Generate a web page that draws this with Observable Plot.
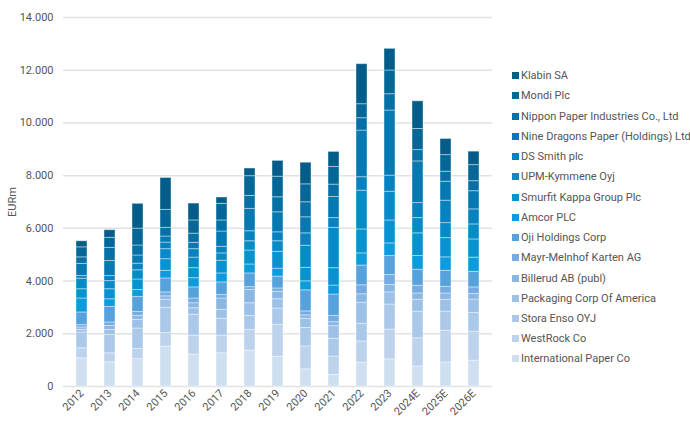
<!DOCTYPE html>
<html><head><meta charset="utf-8">
<script src="https://cdn.jsdelivr.net/npm/d3@7"></script>
<script src="https://cdn.jsdelivr.net/npm/@observablehq/plot@0.6"></script>
<style>
body{margin:0;background:#fff;font-family:Roboto,sans-serif;}
#wrap{position:relative;width:690px;height:421px;}
#legend{position:absolute;left:512px;top:65.6px;font-size:11px;color:#555;font-family:Roboto,sans-serif;}
.item{height:20.24px;display:flex;align-items:center;white-space:nowrap;}
.sw{width:7px;height:7px;margin-right:2px;flex:none;}
</style></head><body><div id="wrap"></div>
<script>
const years = ["2012","2013","2014","2015","2016","2017","2018","2019","2020","2021","2022","2023","2024E","2025E","2026E"];
// stacking order, bottom to top
const companies = ["International Paper Co","WestRock Co","Stora Enso OYJ","Packaging Corp Of America","Billerud AB (publ)","Mayr-Melnhof Karten AG","Oji Holdings Corp","Amcor PLC","Smurfit Kappa Group Plc","UPM-Kymmene Oyj","DS Smith plc","Nine Dragons Paper (Holdings) Ltd","Nippon Paper Industries Co., Ltd","Mondi Plc","Klabin SA"];
const colors = ["#cddff0","#bdd3ec","#abc8e8","#9cc0e6","#8ab6e2","#75abe0","#55a2dc","#0e9ade","#0991d1","#068ac8","#0582bf","#0579b2","#0471a6","#036897","#045d88"];

const internationalPaper = [1070, 920,1040,1510,1210,1260,1360,1130, 650, 440, 900,1030, 760, 910, 980];
const westRock           = [ 380, 340, 380, 520, 720, 670, 790,1210, 870, 700, 810,1130,1070,1210,1100];
const storaEnso          = [ 600, 700, 780, 960, 790, 640, 530, 620, 700, 670, 670, 950,1010, 720, 710];
const packagingCorp      = [ 100, 190, 330, 300, 250, 340, 480, 350, 350, 480, 800, 460, 450, 450, 510];
const billerud           = [  90, 150, 150, 130, 190, 430, 500, 280, 130, 150, 320, 280, 240, 240, 210];
const mayrMelnhof        = [  90, 130, 150, 150, 180, 130, 110, 130, 150, 240, 340, 380, 290, 250, 250];
const oji                = [ 480, 590, 570, 530, 420, 480, 520, 450, 800, 810, 750, 720, 610, 610, 590];
const amcor              = [ 530, 290, 260, 290, 350, 340, 340, 300, 340, 340, 460, 480, 520, 510, 540];
const smurfitKappa       = [ 350, 380, 400, 440, 380, 480, 530, 640, 510, 660, 910, 870, 860, 730, 690];
const upm                = [ 400, 310, 350, 380, 400, 280, 350, 400, 840,1530,1470,1090, 580, 570, 570];
const dsSmith            = [ 100, 190, 250, 250, 320, 250, 380, 340, 470, 370, 510, 610, 570, 850, 570];
const nineDragons        = [ 460, 570, 310, 230, 240, 580, 850, 760, 610, 800,1770,2470,1580, 720, 690];
const nipponPaper        = [ 250, 500, 380, 330, 350, 420, 490, 570, 570, 470, 470, 620, 430, 380, 380];
const mondi              = [ 380, 380, 640, 680, 500, 630, 750, 780, 680, 670, 530, 900, 800, 630, 610];
const klabin             = [ 230, 290, 940,1210, 640, 240, 290, 600, 820, 570,1520, 820,1050, 610, 510];
const yTicks = [0,2000,4000,6000,8000,10000,12000,14000];

const seriesValues = [internationalPaper,westRock,storaEnso,packagingCorp,billerud,mayrMelnhof,oji,amcor,smurfitKappa,upm,dsSmith,nineDragons,nipponPaper,mondi,klabin];
const rows = [];
companies.forEach((c,i)=>years.forEach((y,j)=>rows.push({year:y, company:c, value:seriesValues[i][j]})));

const fmt = d3.formatLocale({decimal:",",thousands:".",grouping:[3],currency:["",""]}).format(",d");

const chart = Plot.plot({
  width: 690, height: 421,
  marginLeft: 63, marginRight: 198, marginTop: 17, marginBottom: 35,
  style: {fontFamily: "Roboto, sans-serif", fontSize: "11px", color: "#555", background: "#fff"},
  x: {domain: years, paddingInner: 0.6, paddingOuter: 0.29},
  y: {domain: [0,14000]},
  color: {domain: companies, range: colors},
  marks: [
    Plot.gridY(yTicks, {stroke: "#e2e2e2", strokeOpacity: 1, strokeWidth: 1.5}),
    Plot.barY(rows, {x: "year", y: "value", fill: "company", stroke: "#fff", strokeOpacity: 0.4, strokeWidth: 1}),
    Plot.axisY({ticks: yTicks, tickFormat: fmt, tickSize: 0, tickPadding: 10, label: "EURm", labelAnchor: "center", labelArrow: "none", labelOffset: 55, fill: "#555"}),
    Plot.axisX({tickRotate: -45, tickSize: 0, tickPadding: 5, label: null, fill: "#555"})
  ]
});
const wrap = document.getElementById("wrap");
wrap.appendChild(chart);

const legend = document.createElement("div");
legend.id = "legend";
companies.slice().reverse().forEach((c) => {
  const i = companies.indexOf(c);
  const item = document.createElement("div");
  item.className = "item";
  const sw = document.createElement("span");
  sw.className = "sw";
  sw.style.background = colors[i];
  const t = document.createElement("span");
  t.textContent = c;
  item.appendChild(sw); item.appendChild(t);
  legend.appendChild(item);
});
wrap.appendChild(legend);
</script></body></html>
